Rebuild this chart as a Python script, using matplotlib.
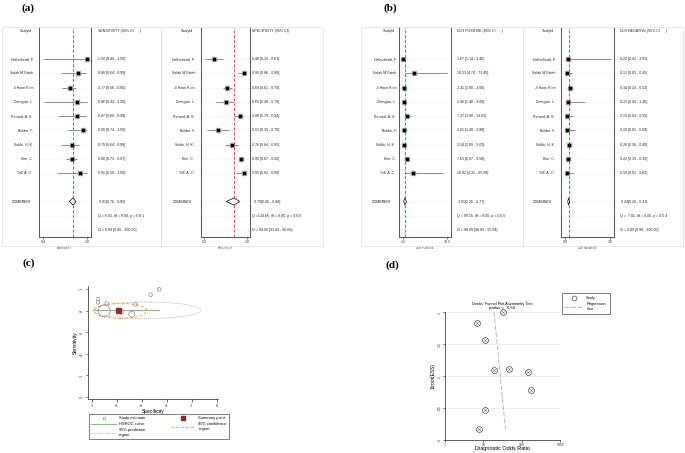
import numpy as np
import matplotlib
matplotlib.use("Agg")
import matplotlib.pyplot as plt
from matplotlib.patches import Rectangle, Ellipse
from matplotlib.lines import Line2D
from matplotlib.transforms import blended_transform_factory

plt.rcParams['font.family'] = ['Liberation Sans', 'DejaVu Sans']

# ---- data ----
studies = ["Hallscheidt, P.", "Salah M Fateh", "Ji Hoon Ki m", "Damgaci, L.", "Renard, A. S .",
           "Bolder, F.", "Sukhi, H. K .", "Kim, C .", "Toll, A. C ."]

sens = [1.00, 0.88, 0.77, 0.86, 0.87, 0.95, 0.79, 0.80, 0.91]
sens_lo = [0.40, 0.64, 0.66, 0.42, 0.60, 0.74, 0.64, 0.71, 0.59]
sens_hi = [1.00, 0.99, 0.85, 1.00, 0.98, 1.00, 0.89, 0.87, 1.00]
sens_comb = [0.81, 0.76, 0.85]

spec = [0.46, 0.95, 0.68, 0.65, 0.88, 0.53, 0.76, 0.90, 0.95]
spec_lo = [0.32, 0.86, 0.61, 0.49, 0.79, 0.35, 0.64, 0.87, 0.82]
spec_hi = [0.61, 0.99, 0.75, 0.79, 0.94, 0.70, 0.85, 0.92, 0.99]
spec_comb = [0.79, 0.66, 0.88]

dlrp = [1.67, 18.53, 2.41, 2.46, 7.37, 2.01, 3.24, 7.63, 16.82]
dlrp_lo = [1.14, 4.74, 1.90, 1.48, 3.98, 1.40, 2.09, 6.07, 4.31]
dlrp_hi = [2.46, 72.45, 3.06, 4.08, 13.63, 2.88, 5.03, 9.58, 65.58]
dlrp_comb = [3.91, 2.26, 6.77]

dlrn = [0.22, 0.12, 0.34, 0.22, 0.15, 0.10, 0.28, 0.22, 0.10]
dlrn_lo = [0.02, 0.03, 0.23, 0.04, 0.04, 0.01, 0.16, 0.15, 0.01]
dlrn_hi = [3.05, 0.45, 0.52, 1.36, 0.55, 0.69, 0.49, 0.32, 0.62]
dlrn_comb = [0.24, 0.18, 0.31]

q_stats = ["Q = 6.03, df = 8.00, p = 0.6 1", "Q =134.66, df = 8.00, p = 0.0 0",
           "Q = 99.55, df = 8.00, p = 0.0 0", "Q =  7.01, df = 8.00, p = 0.5 4"]
i2_stats = ["I2 = 0.00 [0.00 - 100.00]", "I2 = 94.05 [91.43 - 96.68]",
            "I2 = 88.09 [88.09 - 95.64]", "I2 = 0.00 [0.00 - 100.00]"]

# SROC panel
study_n = [110, 120, 300, 110, 120, 110, 150, 1200, 110]
summary_spec, summary_sens = 0.79, 0.81
hsroc_spec = [0.99, 0.46]
hsroc_sens = [0.81, 0.81]
conf_center, conf_w, conf_h = (0.77, 0.80), 0.42, 0.14
pred_center, pred_w, pred_h = (0.56, 0.805), 0.86, 0.155

# Deeks funnel panel
deeks_dor = [32.7, 6.85, 11.3, 19.5, 46.9, 144, 173, 10.9, 7.6]
deeks_y = [0.200, 0.184, 0.156, 0.109, 0.111, 0.107, 0.079, 0.047, 0.017]
reg_dor = [19.0, 37.8]
reg_y = [0.200, 0.017]
deeks_p = "0.64"

W, H = 685, 453
fig = plt.figure(figsize=(W / 100, H / 100), dpi=100)
FS = 2.6


def px_axes(x0, y0, x1, y1):
    return fig.add_axes([x0 / W, 1 - y1 / H, (x1 - x0) / W, (y1 - y0) / H])


def ftext(x, y, s, **kw):
    fig.text(x / W, 1 - y / H, s, **kw)


def frame(x0, y0, x1, y1):
    fig.add_artist(Rectangle((x0 / W, 1 - y1 / H), (x1 - x0) / W, (y1 - y0) / H,
                             transform=fig.transFigure, fill=False, ec='#e4e4e4', lw=0.6))


COMB_ROW, Q_ROW, I2_ROW, HEAD_ROW = 10, 11, 12, -2


def forest(rect, est, lo, hi, comb, q_txt, i2_txt, xlim, ticks, ticklabels, xlabel,
           header, name_x, comb_x, text_x):
    ax = px_axes(*rect)
    rows = np.arange(len(est))
    ax.set_xlim(*xlim)
    ax.set_ylim(12.49, -2.25)
    for r in list(rows) + [COMB_ROW, Q_ROW, I2_ROW]:
        ax.axhline(r, color='#efefef', lw=0.4, zorder=0)
    ax.hlines(rows, lo, hi, color='#7a7a7a', lw=0.6, zorder=2)
    ax.plot(est, rows, 's', color='#a8a8a8', ms=3.2, zorder=3)
    ax.plot(est, rows, 's', color='black', ms=1.8, zorder=4)
    c, cl, ch = comb
    ax.fill([cl, c, ch, c], [COMB_ROW, COMB_ROW - 0.25, COMB_ROW, COMB_ROW + 0.25],
            fc='white', ec='black', lw=0.5, zorder=4)
    ax.axvline(c, color='#d9475a', ls=(0, (3, 2)), lw=0.7, zorder=3)
    ax.spines['top'].set_visible(False)
    for s in ['left', 'right', 'bottom']:
        ax.spines[s].set_color('#555555')
        ax.spines[s].set_linewidth(0.7)
    ax.set_yticks([])
    ax.set_xticks(ticks)
    ax.set_xticklabels(ticklabels)
    ax.tick_params(axis='x', labelsize=FS, length=1.5, width=0.5, pad=1, colors='#333333')
    ax.set_xlabel(xlabel, fontsize=1.8, labelpad=1, color='#333333')

    tr = blended_transform_factory(fig.transFigure, ax.transData)
    kw = dict(transform=tr, fontsize=FS, va='center', color='#222222')
    ax.text(name_x / W - 1.5 / W, HEAD_ROW, "StudyId", ha='right', **kw)
    ax.text(text_x / W, HEAD_ROW, header, ha='left', **kw)
    for r, name, e, l, h in zip(rows, studies, est, lo, hi):
        ax.text(name_x / W, r, name, ha='right', **kw)
        ax.text(text_x / W, r, f"{e:.2f} [{l:.2f} - {h:.2f}]", ha='left', **kw)
    ax.text(comb_x / W, COMB_ROW, "COMBINED", ha='right', **kw)
    ax.text(text_x / W + 1 / W, COMB_ROW, f"{c:.2f}[{cl:.2f} - {ch:.2f}]", ha='left', **kw)
    ax.text(text_x / W, Q_ROW, q_txt, ha='left', **kw)
    ax.text(text_x / W, I2_ROW, i2_txt, ha='left', **kw)
    return ax


# frames for panels (a) and (b)
frame(2, 27, 161, 246)
frame(161, 27, 323, 246)
frame(361, 27, 523, 246)
frame(523, 27, 683, 246)

forest((39, 27, 91, 237), sens, sens_lo, sens_hi, sens_comb, q_stats[0], i2_stats[0],
       (0.345, 1.055), [0.4, 1.0], ["0.4", "1.0"], "SENSITIVITY",
       "SENSITIVITY (95% CI      )", 33.5, 30.5, 98)
forest((200.7, 27, 250, 237), spec, spec_lo, spec_hi, spec_comb, q_stats[1], i2_stats[1],
       (0.246, 1.049), [0.3, 1.0], ["0.3", "1.0"], "SPECIFICITY",
       "SPECIFICITY (95% CI)", 195, 192, 252.5)
forest((399, 27, 451, 237), dlrp, dlrp_lo, dlrp_hi, dlrp_comb, q_stats[2], i2_stats[2],
       (-5.4, 79.0), [1.1, 72.5], ["1.1", "72.5"], "DLR POSITIVE",
       "DLR POSITIVE (95% CI      )", 396.5, 391, 457)
forest((561, 27, 614, 237), dlrn, dlrn_lo, dlrn_hi, dlrn_comb, q_stats[3], i2_stats[3],
       (-0.267, 3.267), [0.0, 3.0], ["0.0", "3.0"], "DLR NEGATIVE",
       "DLR NEGATIVE (95% CI      )", 555.5, 552, 620)

# panel letters
lab = dict(fontsize=8, fontweight='bold', family='Liberation Serif', ha='center', va='center')
ftext(28.5, 8, "(a)", **lab)
ftext(390, 8, "(b)", **lab)
ftext(28.5, 263, "(c)", **lab)
ftext(392, 265, "(d)", **lab)

# ---- (c) SROC ----
axc = px_axes(88, 286, 218, 399)
axc.set_xlim(1.03, -0.01)
axc.set_ylim(-0.0186, 1.031)
pred = Ellipse(pred_center, pred_w, pred_h, fill=False, ec='#9aab9a', ls=(0, (1, 1.2)), lw=0.6)
conf = Ellipse(conf_center, conf_w, conf_h, fill=False, ec='#f0a848', ls=(0, (3, 2)), lw=0.7)
axc.add_patch(pred)
axc.add_patch(conf)
axc.scatter(spec, sens, s=np.array(study_n) * 0.062, facecolors='none', edgecolors='#8c8c8c',
            linewidths=0.5, zorder=3, clip_on=False)
axc.plot(hsroc_spec, hsroc_sens, color='#8fb884', lw=0.8, zorder=2)
axc.plot([summary_spec], [summary_sens], 's', color='#8b2b30', ms=3.6, zorder=4)
axc.spines['top'].set_visible(False)
axc.spines['right'].set_visible(False)
for s in ['left', 'bottom']:
    axc.spines[s].set_color('#444444')
    axc.spines[s].set_linewidth(0.6)
tk = [1, 0.8, 0.6, 0.4, 0.2, 0]
tkl = ["1", ".8", ".6", ".4", ".2", "0"]
axc.set_xticks(tk)
axc.set_xticklabels(tkl)
axc.set_yticks(tk)
axc.set_yticklabels(tkl, rotation=90, va='center')
axc.tick_params(labelsize=2.8, length=1.8, width=0.5, pad=1.5, colors='#333333')
axc.set_xlabel("Specificity", fontsize=3.6, labelpad=1)
axc.set_ylabel("Sensitivity", fontsize=3.6, labelpad=1)

hc = [Line2D([], [], ls='none', marker='o', mfc='none', mec='#8c8c8c', ms=2, mew=0.5),
      Line2D([], [], color='#8fb884', lw=0.8),
      Line2D([], [], color='#9aab9a', ls=(0, (1, 1.2)), lw=0.6),
      Line2D([], [], ls='none', marker='s', color='#8b2b30', ms=3.2),
      Line2D([], [], color='#f0a848', ls=(0, (3, 2)), lw=0.7)]
lc = ["Study estimate", "HSROC curve", "95% prediction\nregion", "Summary point",
      "95% confidence\nregion"]
legc = axc.legend(hc, lc, ncol=2, loc='upper left', mode='expand',
                  bbox_to_anchor=(89 / W, 1 - 447 / H, 140 / W, 33 / H),
                  bbox_transform=fig.transFigure, fontsize=2.9, frameon=True,
                  fancybox=False, edgecolor='#444444', handlelength=6, handletextpad=0.8,
                  borderpad=0.6, labelspacing=0.5, columnspacing=1.0, borderaxespad=0)
legc.get_frame().set_linewidth(0.6)

# ---- (d) Deeks funnel ----
axd = px_axes(445, 312.3, 560, 440)
axd.set_xscale('log')
axd.set_xlim(1, 1000)
axd.set_ylim(0, 0.2)
yt = [0, 0.05, 0.1, 0.15, 0.2]
for v in yt:
    axd.axhline(v, color='#dfeaf0', lw=0.5, zorder=0)
axd.plot(reg_dor, reg_y, color='#93b3cf', ls=(0, (6, 2)), lw=0.6, zorder=2)
axd.plot(deeks_dor, deeks_y, 'o', mfc='none', mec='#444444', ms=4.2, mew=0.5, zorder=3,
         clip_on=False)
axd.plot(deeks_dor, deeks_y, 'x', color='#666666', ms=1.8, mew=0.4, zorder=3, clip_on=False)
axd.spines['top'].set_visible(False)
axd.spines['right'].set_visible(False)
for s in ['left', 'bottom']:
    axd.spines[s].set_color('#444444')
    axd.spines[s].set_linewidth(0.6)
axd.set_xticks([1, 10, 100, 1000])
axd.set_xticklabels(["1", "10", "100", "1000"])
axd.minorticks_off()
axd.set_yticks(yt)
axd.set_yticklabels(["0", ".05", ".1", ".15", ".2"], rotation=90, va='center')
axd.tick_params(labelsize=2.4, length=1.4, width=0.5, pad=0.8, colors='#333333')
axd.set_xlabel("Diagnostic Odds Ratio", fontsize=4.0, va='top')
axd.xaxis.set_label_coords(0.5, -0.045)
axd.set_ylabel("1/root(ESS)", fontsize=3.6, labelpad=2)
ftext(502, 304.3, "Deeks' Funnel Plot Asymmetry Test", fontsize=2.8, ha='center', va='center')
ftext(502, 308.5, f"pvalue =   {deeks_p}", fontsize=2.8, ha='center', va='center')

hd = [Line2D([], [], ls='none', marker='o', mfc='none', mec='#444444', ms=3.5, mew=0.5),
      Line2D([], [], color='#93b3cf', ls=(0, (6, 2)), lw=0.6)]
legd = axd.legend(hd, ["Study", "Regression\nLine"], loc='upper left',
                  bbox_to_anchor=(561.7 / W, 1 - 314.3 / H, 48.6 / W, 21 / H), mode='expand',
                  bbox_transform=fig.transFigure, fontsize=2.8, frameon=True, fancybox=False,
                  edgecolor='#444444', handlelength=5, handletextpad=0.6, borderpad=0.7,
                  labelspacing=0.6, borderaxespad=0)
legd.get_frame().set_linewidth(0.6)

fig.savefig("out.png", dpi=100)
